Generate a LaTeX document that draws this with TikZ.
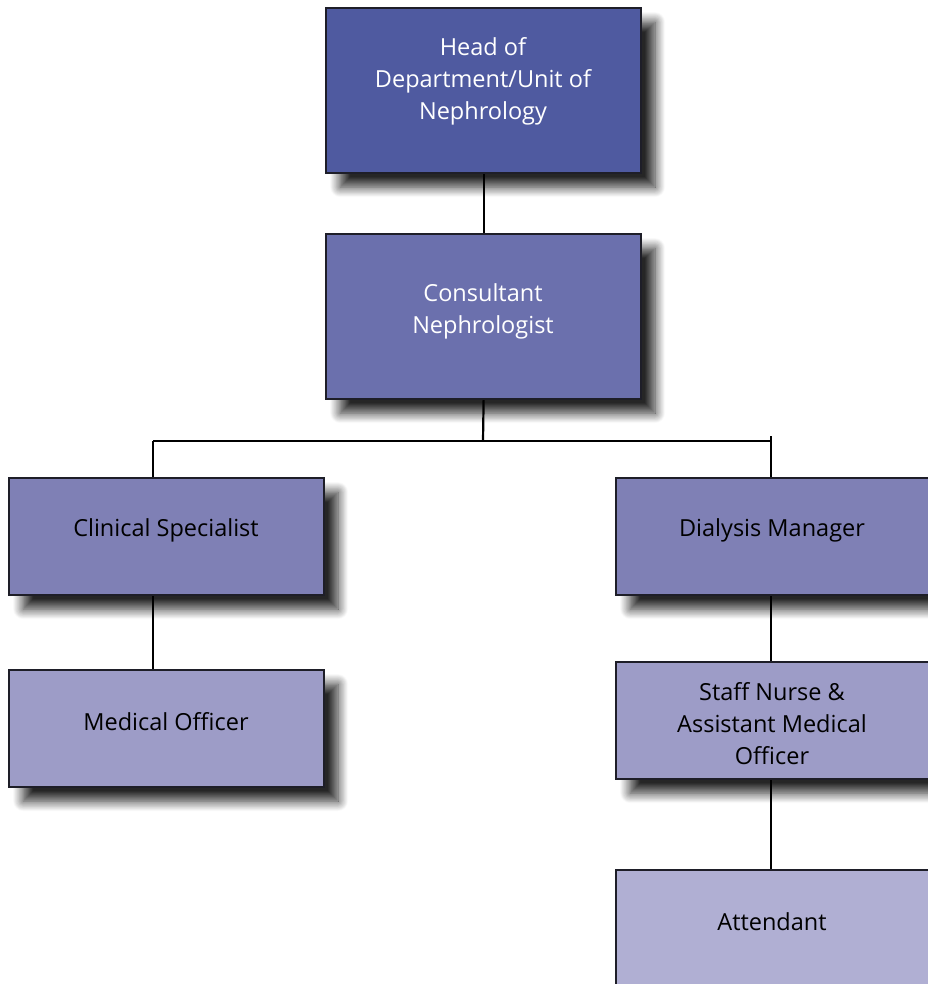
\documentclass[tikz,border=0pt]{standalone}
\usepackage{fontspec}
\setmainfont{Open Sans}
\usetikzlibrary{shadows.blur}
\definecolor{cHead}{HTML}{4F5AA0}
\definecolor{cCons}{HTML}{6B70AD}
\definecolor{cMid}{HTML}{7F80B5}
\definecolor{cLow}{HTML}{9D9CC7}
\definecolor{cAtt}{HTML}{B0AFD3}
\definecolor{cEdge}{HTML}{1E1E28}
\tikzset{
  orgbox/.style={draw=cEdge, line width=2.2pt, rectangle, anchor=north west,
    minimum width=315pt, inner sep=0pt,
    blur shadow={shadow xshift=14pt, shadow yshift=-14pt, shadow blur radius=10pt, shadow blur steps=12, shadow opacity=85}},
  orgtext/.style={align=center, font=\fontsize{23.5}{32}\selectfont, inner sep=0pt},
  link/.style={draw=black, line width=2.2pt}
}
\begin{document}
\begin{tikzpicture}[x=1pt,y=-1pt]
\useasboundingbox (0,0) rectangle (927,984);
% boxes
\node[orgbox, fill=cHead, minimum height=165pt] (head) at (325,7) {};
\node[orgbox, fill=cCons, minimum height=165pt] (cons) at (325,233) {};
\node[orgbox, fill=cMid, minimum height=117pt] (clin) at (8,477) {};
\node[orgbox, fill=cMid, minimum height=117pt] (dial) at (615,477) {};
\node[orgbox, fill=cLow, minimum height=117pt] (med) at (8,669) {};
\node[orgbox, fill=cLow, minimum height=117pt] (staff) at (615,661) {};
\node[orgbox, fill=cAtt, minimum height=140pt] (att) at (615,869) {};
% texts
\node[orgtext, text=white] (headt) at (483,81) {Head of\\Department/Unit of\\Nephrology};
\node[orgtext, text=white] (const) at (483,311) {Consultant\\Nephrologist};
\node[orgtext] (clint) at (166,530) {Clinical Specialist};
\node[orgtext] (dialt) at (772,530) {Dialysis Manager};
\node[orgtext] (medt) at (166,722) {Medical Officer};
\node[orgtext] (stafft) at (772,724) {Staff Nurse \&\\Assistant Medical\\Officer};
\node[orgtext] (attt) at (772,922) {Attendant};
% connectors
\coordinate (j) at (483,441);
\coordinate (jl) at (153,441);
\coordinate (jr) at (771,441);
\coordinate (jrt) at (771,436);
\draw[link] (head.south) -- (cons.north);
\draw[link] (cons.south) -- (j);
\draw[link] (jl) -- (jr);
\draw[link] (jl) -- (jl |- clin.north);
\draw[link] (jrt) -- (jr |- dial.north);
\draw[link] (jl |- clin.south) -- (jl |- med.north);
\draw[link] (jr |- dial.south) -- (jr |- staff.north);
\draw[link] (jr |- staff.south) -- (jr |- att.north);
\end{tikzpicture}
\end{document}
